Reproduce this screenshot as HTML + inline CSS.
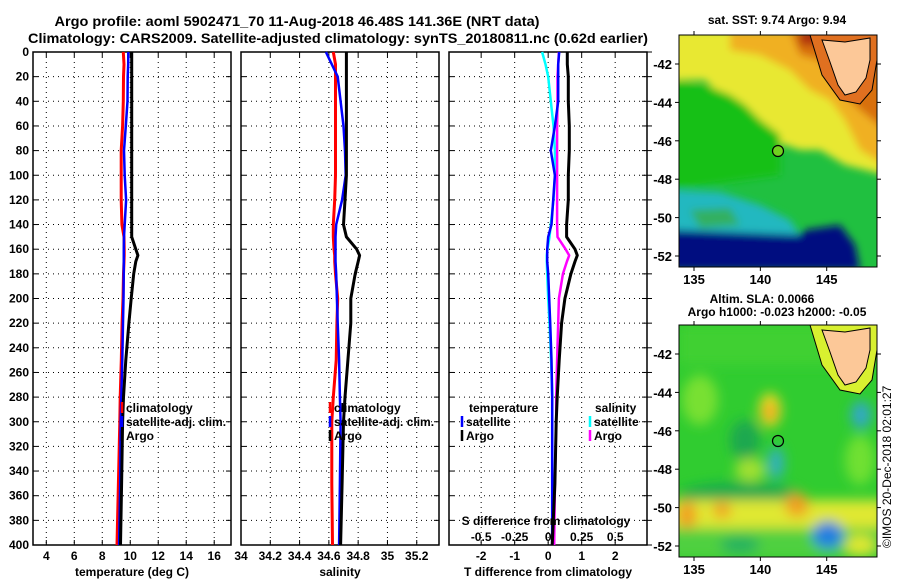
<!DOCTYPE html>
<html><head><meta charset="utf-8"><style>
html,body{margin:0;padding:0;background:#fff;}
svg{display:block;font-family:"Liberation Sans",sans-serif;font-weight:bold;}
</style></head><body>
<svg id="fig" width="900" height="580" viewBox="0 0 900 580">
<defs>
<filter id="bl" x="-20%" y="-20%" width="140%" height="140%"><feGaussianBlur stdDeviation="4"/></filter>
<filter id="bl2" x="-30%" y="-30%" width="160%" height="160%"><feGaussianBlur stdDeviation="6"/></filter>
<clipPath id="c1"><rect x="679" y="35" width="198" height="232"/></clipPath>
<clipPath id="c2"><rect x="679" y="325" width="198" height="232"/></clipPath>
</defs>
<text x="297" y="26" font-size="14" text-anchor="middle" textLength="485" lengthAdjust="spacingAndGlyphs">Argo profile: aoml 5902471_70 11-Aug-2018 46.48S 141.36E (NRT data)</text>
<text x="338" y="43" font-size="14" text-anchor="middle" textLength="620" lengthAdjust="spacingAndGlyphs">Climatology: CARS2009. Satellite-adjusted climatology: synTS_20180811.nc (0.62d earlier)</text>
<g id="panels"></g>
<g id="maps">
 <g clip-path="url(#c1)">
  <rect x="679" y="35" width="198" height="232" fill="#20c040"/>
  <g filter="url(#bl)">
   <polygon points="670,30 885,30 885,175 845,165 820,150 800,150 770,140 750,115 735,100 720,95 705,80 670,80" fill="#e8e830"/>
   <polygon points="730,30 885,30 885,165 860,150 845,120 830,100 810,90 790,70 760,55 730,50" fill="#f0b020"/>
   <polygon points="790,30 885,30 885,130 860,110 840,90 820,60 800,55" fill="#d87010"/>
   <polygon points="800,30 830,30 830,45 800,45" fill="#b03010"/>
   <polygon points="670,80 705,85 730,95 745,105 760,120 780,135 780,175 670,190" fill="#18c018"/>
   <polygon points="670,190 720,192 760,205 790,220 800,235 770,245 670,245" fill="#20b8c0"/>
   <polygon points="690,210 730,208 740,225 700,228" fill="#30b060"/>
   <polygon points="670,230 800,235 805,230 840,225 855,245 860,270 670,270" fill="#000c80"/>
  </g>
  <polygon points="810,35 822,75 840,100 860,104 872,90 877,60 877,35" fill="#e07020" stroke="#000" stroke-width="1"/>
  <polygon points="822,40 845,42 870,38 870,60 866,78 856,92 845,95 838,85 830,62" fill="#fcc898" stroke="#000" stroke-width="1"/>
  <circle cx="778" cy="151" r="5.5" fill="#70d020" stroke="#000" stroke-width="1.2"/>
 </g>
 <rect x="679" y="35" width="198" height="232" fill="none" stroke="#000"/>
 <g clip-path="url(#c2)">
  <rect x="679" y="325" width="198" height="232" fill="#30cc30"/>
  <g filter="url(#bl2)">
   <rect x="679" y="325" width="198" height="40" fill="#40d030"/>
   <ellipse cx="700" cy="400" rx="18" ry="25" fill="#78e030"/>
   <ellipse cx="745" cy="440" rx="15" ry="20" fill="#1aa850"/>
   <ellipse cx="750" cy="470" rx="15" ry="12" fill="#a0e030"/>
   <ellipse cx="770" cy="410" rx="11" ry="17" fill="#f0d820"/>
   <ellipse cx="770" cy="412" rx="5" ry="8" fill="#f09020"/>
   <ellipse cx="776" cy="463" rx="8" ry="16" fill="#30b0c0"/>
   <ellipse cx="861" cy="415" rx="10" ry="14" fill="#30a8c8"/>
   <ellipse cx="860" cy="460" rx="15" ry="25" fill="#70e030"/>
   <ellipse cx="740" cy="495" rx="60" ry="12" fill="#18a850"/>
   <rect x="670" y="500" width="215" height="28" fill="#e0e830"/>
   <ellipse cx="687" cy="515" rx="10" ry="14" fill="#f0a020"/>
   <ellipse cx="722" cy="510" rx="9" ry="8" fill="#f0a020"/>
   <ellipse cx="797" cy="505" rx="12" ry="12" fill="#f0a020"/>
   <rect x="670" y="528" width="215" height="30" fill="#50d040"/>
   <ellipse cx="828" cy="535" rx="16" ry="14" fill="#2080e0"/>
   <ellipse cx="740" cy="545" rx="20" ry="8" fill="#20b060"/>
   <ellipse cx="860" cy="545" rx="15" ry="10" fill="#e0e830"/>
  </g>
  <polygon points="810,325 822,365 840,390 860,394 872,380 877,350 877,325" fill="#d8f030" stroke="#000" stroke-width="1"/>
  <polygon points="822,330 845,332 870,328 870,350 866,368 856,382 845,385 838,375 830,352" fill="#fcc898" stroke="#000" stroke-width="1"/>
  <circle cx="778" cy="441" r="5.5" fill="none" stroke="#000" stroke-width="1.2"/>
 </g>
 <rect x="679" y="325" width="198" height="232" fill="none" stroke="#000"/>
 <text x="777" y="24" font-size="12" text-anchor="middle">sat. SST: 9.74 Argo: 9.94</text>
 <text x="762" y="303" font-size="12" text-anchor="middle">Altim. SLA: 0.0066</text>
 <text x="777" y="316" font-size="12" text-anchor="middle">Argo h1000: -0.023 h2000: -0.05</text>
 <text transform="translate(891,548) rotate(-90)" font-size="12" font-weight="normal">©IMOS 20-Dec-2018 02:01:27</text>
 <g id="mapticks"></g>
</g>
</svg>
<script>
const depths=[0,10,20,40,60,80,100,120,140,150,160,165,170,180,200,220,250,280,300,350,400];
const tArgo=[10.1,10.1,10.1,10.1,10.1,10.1,10.1,10.1,10.1,10.1,10.4,10.55,10.4,10.25,10.07,9.9,9.68,9.52,9.45,9.38,9.3];
const tClim=[9.5,9.55,9.52,9.5,9.45,9.35,9.35,9.35,9.4,9.55,9.57,9.57,9.55,9.52,9.48,9.42,9.36,9.28,9.25,9.15,9.05];
const tSat=[9.86,9.85,9.82,9.8,9.68,9.55,9.6,9.7,9.6,9.55,9.54,9.54,9.54,9.53,9.52,9.48,9.43,9.36,9.32,9.28,9.2];
const sArgo=[34.72,34.72,34.72,34.72,34.72,34.72,34.72,34.71,34.7,34.72,34.79,34.81,34.8,34.78,34.75,34.75,34.73,34.71,34.7,34.69,34.68];
const sClim=[34.63,34.645,34.645,34.645,34.645,34.645,34.645,34.64,34.63,34.63,34.635,34.64,34.64,34.645,34.66,34.655,34.65,34.63,34.62,34.62,34.625];
const sSat=[34.58,34.62,34.66,34.68,34.7,34.71,34.715,34.69,34.65,34.645,34.645,34.645,34.645,34.65,34.655,34.66,34.67,34.675,34.68,34.675,34.67];
const dTArgo=[0.57,0.57,0.6,0.6,0.63,0.63,0.6,0.6,0.55,0.55,0.8,0.87,0.8,0.68,0.5,0.4,0.33,0.27,0.24,0.2,0.12];
const dTSat=[0.33,0.3,0.3,0.3,0.2,0.08,0.2,0.15,0.1,0,-0.03,-0.03,-0.03,0,0.03,0.06,0.1,0.12,0.12,0.12,0.12];
const dSSat=[-0.045,-0.02,0,0.02,0.04,0.05,0.05,0.04,0.02,0.01,-0.005,-0.01,-0.01,-0.007,0,0.01,0.022,0.03,0.03,0.03,0.03];
const dSArgo=[0.08,0.075,0.07,0.07,0.067,0.067,0.067,0.067,0.067,0.07,0.13,0.157,0.14,0.11,0.08,0.075,0.067,0.06,0.06,0.05,0.045];
const depthTicks=[0,20,40,60,80,100,120,140,160,180,200,220,240,260,280,300,320,340,360,380,400];
const tTicks=[4,6,8,10,12,14,16];
const sTicks=[34,34.2,34.4,34.6,34.8,35,35.2];
const dTicks=[-2,-1,0,1,2];
const dSTickLabels=["-0.5","-0.25","0","0.25","0.5"];
const dSTicks=[-0.5,-0.25,0,0.25,0.5];
const lonTicks=[135,140,145];
const latTicks=[-42,-44,-46,-48,-50,-52];

const NS='http://www.w3.org/2000/svg';
const Y0=52,Y1=545,PT=52,PB=545;
const yD=d=>Y0+d*(Y1-Y0)/400;
function mk(tag,attrs,parent,txt){const e=document.createElementNS(NS,tag);for(const k in attrs)e.setAttribute(k,attrs[k]);if(txt!==undefined)e.textContent=txt;parent.appendChild(e);return e;}
const G=document.getElementById('panels');
const panels=[
 {x0:33,x1:231,lo:3.05,hi:17.2,ticks:tTicks,lbl:tTicks.map(String),title:'temperature (deg C)',name:'temperature-panel'},
 {x0:241,x1:439,lo:34.0,hi:35.352,ticks:sTicks,lbl:sTicks.map(String),title:'salinity',name:'salinity-panel'},
 {x0:449,x1:647,lo:-2.96,hi:2.95,ticks:dTicks,lbl:dTicks.map(String),title:'T difference from climatology',name:'difference-panel'}
];
panels.forEach((p,pi)=>{
 const g=mk('g',{},G);
 
 
 p.sx=v=>p.x0+(v-p.lo)*(p.x1-p.x0)/(p.hi-p.lo);
 depthTicks.forEach(d=>{
  if(d>0&&d<400){const l=mk('line',{x1:p.x0,x2:p.x1,y1:yD(d),y2:yD(d),stroke:'#000','stroke-width':1,'stroke-dasharray':'1 4'},g);}
  mk('line',{x1:p.x0,x2:p.x0+5,y1:yD(d),y2:yD(d),stroke:'#000'},g);
  mk('line',{x1:p.x1-5,x2:p.x1,y1:yD(d),y2:yD(d),stroke:'#000'},g);
  if(pi==2){mk('line',{x1:p.x1,x2:p.x1+5,y1:yD(d),y2:yD(d),stroke:'#000'},g);}
 });
 p.ticks.forEach((t,i)=>{
  const x=p.sx(t);
  const l=mk('line',{x1:x,x2:x,y1:PT,y2:PB,stroke:'#000','stroke-width':1,'stroke-dasharray':'1 4'},g);
  
  
  mk('line',{x1:x,x2:x,y1:PT,y2:PT+5,stroke:'#000'},g);
  mk('line',{x1:x,x2:x,y1:PB-5,y2:PB,stroke:'#000'},g);
  const tx=mk('text',{x:x,y:560,'font-size':12,'text-anchor':'middle'},g,p.lbl[i]);
  
  
 });
 const at=mk('text',{x:(p.x0+p.x1)/2,y:576,'font-size':12,'text-anchor':'middle'},g,p.title);
 
 
 const fr=mk('rect',{x:p.x0,y:PT,width:p.x1-p.x0,height:PB-PT,fill:'none',stroke:'#000','stroke-width':1.5},g);
 
 
});
depthTicks.forEach(d=>{
 const t=mk('text',{x:29,y:yD(d)+4,'font-size':12,'text-anchor':'end'},G,String(d));
 
 
});
function line(p,vals,color,w,name,scale){
 const pts=vals.map((v,i)=>(p.sx(v*(scale||1))).toFixed(1)+','+yD(depths[i]).toFixed(1)).join(' ');
 const e=mk('polyline',{points:pts,fill:'none',stroke:color,'stroke-width':w,'stroke-linejoin':'round'},G);
 
 
}
const [P1,P2,P3]=panels;
line(P1,tClim,'#f00',3,'temperature-climatology-line');
line(P1,tSat,'#00f',2.5,'temperature-satellite-line');
line(P1,tArgo,'#000',3,'temperature-argo-line');
line(P2,sClim,'#f00',3,'salinity-climatology-line');
line(P2,sSat,'#00f',2.5,'salinity-satellite-line');
line(P2,sArgo,'#000',3,'salinity-argo-line');
line(P3,dSSat,'#0ff',2.5,'s-diff-satellite-line',4);
line(P3,dSArgo,'#f0f',2.5,'s-diff-argo-line',4);
line(P3,dTSat,'#00f',2.5,'t-diff-satellite-line');
line(P3,dTArgo,'#000',3,'t-diff-argo-line');
// S axis inside panel 3
const st=mk('text',{x:546,y:525,'font-size':12,'text-anchor':'middle'},G,'S difference from climatology');


dSTicks.forEach((t,i)=>{
 const x=P3.sx(t*4);
 const e=mk('text',{x:x,y:541,'font-size':12,'text-anchor':'middle'},G,dSTickLabels[i]);
 
 
});
// legends
function leg(x,y,color,label,name){
 const g=mk('g',{},G);
 
 
 mk('line',{x1:x,x2:x,y1:y-10,y2:y+1,stroke:color,'stroke-width':2.5},g);
 mk('text',{x:x+4,y:y,'font-size':12},g,label);
}
leg(122,412,'#f00','climatology','legend-entry-climatology');
leg(122,426,'#00f','satellite-adj. clim.','legend-entry-satellite');
leg(122,440,'#000','Argo','legend-entry-argo');
leg(330,412,'#f00','climatology','legend-entry-climatology');
leg(330,426,'#00f','satellite-adj. clim.','legend-entry-satellite');
leg(330,440,'#000','Argo','legend-entry-argo');
const lt=mk('text',{x:469,y:412,'font-size':12},G,'temperature');


const ls=mk('text',{x:595,y:412,'font-size':12},G,'salinity');


leg(462,426,'#00f','satellite','legend-entry-t-satellite');
leg(462,440,'#000','Argo','legend-entry-t-argo');
leg(590,426,'#0ff','satellite','legend-entry-s-satellite');
leg(590,440,'#f0f','Argo','legend-entry-s-argo');
// map ticks
const MT=document.getElementById('mapticks');
const lonX=l=>694+(l-135)*13.27;
[[35,267,64],[325,557,354]].forEach(([top,bot,l42])=>{
 lonTicks.forEach(l=>{
  mk('line',{x1:lonX(l),x2:lonX(l),y1:top-4,y2:top,stroke:'#000'},MT);
  mk('line',{x1:lonX(l),x2:lonX(l),y1:bot,y2:bot+4,stroke:'#000'},MT);
  const t=mk('text',{x:lonX(l),y:bot+17,'font-size':13,'text-anchor':'middle'},MT,String(l));
  
  
 });
 latTicks.forEach(la=>{
  const y=l42+(-42-la)*19.2;
  mk('line',{x1:675,x2:679,y1:y,y2:y,stroke:'#000'},MT);
  mk('line',{x1:877,x2:881,y1:y,y2:y,stroke:'#000'},MT);
  const t=mk('text',{x:672,y:y+5,'font-size':13,'text-anchor':'end'},MT,String(la));
  
  
 });
});
</script>
</body></html>
